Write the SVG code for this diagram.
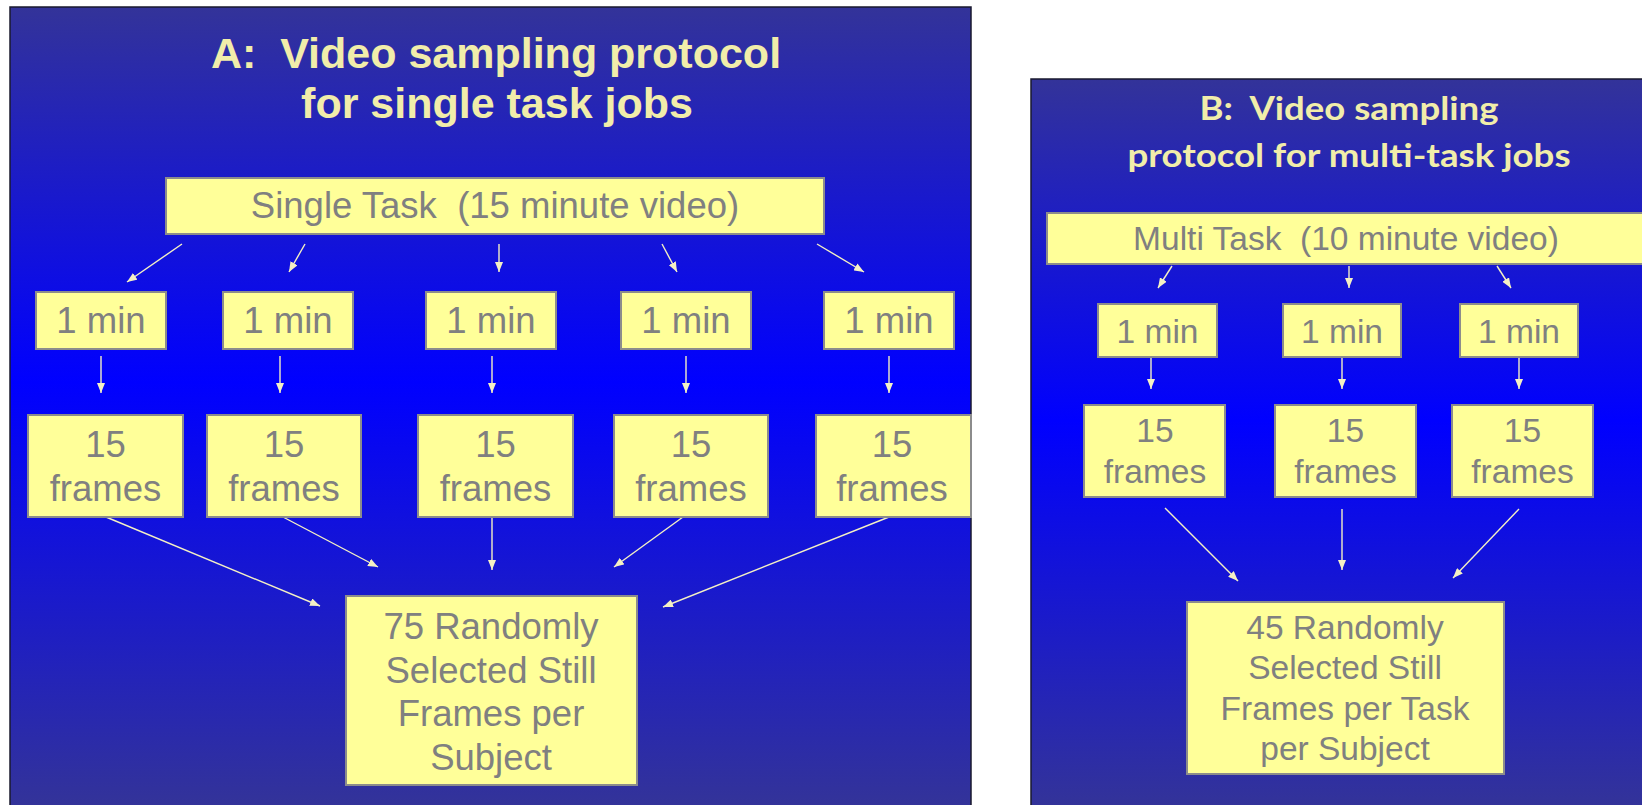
<svg xmlns="http://www.w3.org/2000/svg" width="1642" height="805" viewBox="0 0 1642 805">
<style>
text{white-space:pre}
.bg{fill:#ffffff}
.panel{stroke:#1a1a2e;stroke-width:1.5}
.box{fill:#FFFF99;stroke:#8C8C8C;stroke-width:2}
.t{font-family:"Liberation Sans",Arial,sans-serif;fill:#808080;text-anchor:middle}
.ta{font-size:36.5px}
.tb{font-size:33.5px}
.titleA{font-family:"Liberation Sans",Arial,sans-serif;font-weight:bold;font-size:43px;fill:#F1EDAA;text-anchor:middle}
.titleB{font-family:Lato,"Open Sans",sans-serif;font-weight:bold;font-size:33px;fill:#F1EDAA;text-anchor:middle}
.c line{stroke:#F4F0C4;stroke-width:1.4;marker-end:url(#ah)}
</style>
<defs>
<linearGradient id="gA" gradientUnits="userSpaceOnUse" x1="0" y1="7" x2="0" y2="805">
<stop offset="0" stop-color="#333399"/>
<stop offset="0.47" stop-color="#0000FF"/>
<stop offset="1" stop-color="#333399"/>
</linearGradient>
<linearGradient id="gB" gradientUnits="userSpaceOnUse" x1="0" y1="79" x2="0" y2="805">
<stop offset="0" stop-color="#333399"/>
<stop offset="0.47" stop-color="#0000FF"/>
<stop offset="1" stop-color="#333399"/>
</linearGradient>
<marker id="ah" markerUnits="userSpaceOnUse" markerWidth="10" markerHeight="8" refX="10" refY="4" orient="auto">
<path d="M0,0 L10,4 L0,8 z" fill="#F4F0C4"/>
</marker>
</defs>
<rect class="bg" x="0" y="0" width="1642" height="805"/>
<rect id="panelA" class="panel" x="10" y="7" width="961" height="810" fill="url(#gA)"/>
<rect id="panelB" class="panel" x="1031" y="79" width="630" height="740" fill="url(#gB)"/>

<g id="titleA">
<text class="titleA" x="496" y="68" xml:space="preserve">A:  Video sampling protocol</text>
<text class="titleA" x="497" y="118">for single task jobs</text>
</g>
<g id="titleB">
<text class="titleB" x="1349" y="120" textLength="299" lengthAdjust="spacingAndGlyphs" xml:space="preserve">B:  Video sampling</text>
<text class="titleB" x="1349" y="167" textLength="443" lengthAdjust="spacingAndGlyphs">protocol for multi-task jobs</text>
</g>

<g id="connectors" class="c">
<line x1="182" y1="244" x2="127" y2="282"/>
<line x1="305" y1="244" x2="289" y2="272"/>
<line x1="499" y1="244" x2="499" y2="272"/>
<line x1="662" y1="244" x2="677" y2="272"/>
<line x1="817" y1="244" x2="864" y2="272"/>
<line x1="101" y1="356" x2="101" y2="393"/>
<line x1="280" y1="356" x2="280" y2="393"/>
<line x1="492" y1="356" x2="492" y2="393"/>
<line x1="686" y1="356" x2="686" y2="393"/>
<line x1="889" y1="356" x2="889" y2="393"/>
<line x1="106" y1="517" x2="320" y2="606"/>
<line x1="283" y1="517" x2="378" y2="567"/>
<line x1="492" y1="517" x2="492" y2="570"/>
<line x1="683" y1="517" x2="614" y2="567"/>
<line x1="889" y1="517" x2="663" y2="607"/>
<line x1="1172" y1="266" x2="1158" y2="288"/>
<line x1="1349" y1="266" x2="1349" y2="288"/>
<line x1="1497" y1="266" x2="1511" y2="288"/>
<line x1="1151" y1="358" x2="1151" y2="389"/>
<line x1="1342" y1="358" x2="1342" y2="389"/>
<line x1="1519" y1="358" x2="1519" y2="389"/>
<line x1="1165" y1="508" x2="1238" y2="581"/>
<line x1="1342" y1="509" x2="1342" y2="570"/>
<line x1="1519" y1="509" x2="1453" y2="578"/>
</g>

<g id="singleTask"><rect class="box" x="166" y="178" width="658" height="56"/><text class="t ta" x="495" y="218" xml:space="preserve">Single Task  (15 minute video)</text></g>

<g id="a_min1"><rect class="box" x="36" y="292" width="130" height="57"/><text class="t ta" x="101" y="333">1 min</text></g>
<g id="a_min2"><rect class="box" x="223" y="292" width="130" height="57"/><text class="t ta" x="288" y="333">1 min</text></g>
<g id="a_min3"><rect class="box" x="426" y="292" width="130" height="57"/><text class="t ta" x="491" y="333">1 min</text></g>
<g id="a_min4"><rect class="box" x="621" y="292" width="130" height="57"/><text class="t ta" x="686" y="333">1 min</text></g>
<g id="a_min5"><rect class="box" x="824" y="292" width="130" height="57"/><text class="t ta" x="889" y="333">1 min</text></g>

<g id="a_fr1"><rect class="box" x="28" y="415" width="155" height="102"/><text class="t ta" x="105.5" y="457">15</text><text class="t ta" x="105.5" y="501">frames</text></g>
<g id="a_fr2"><rect class="box" x="207" y="415" width="154" height="102"/><text class="t ta" x="284" y="457">15</text><text class="t ta" x="284" y="501">frames</text></g>
<g id="a_fr3"><rect class="box" x="418" y="415" width="155" height="102"/><text class="t ta" x="495.5" y="457">15</text><text class="t ta" x="495.5" y="501">frames</text></g>
<g id="a_fr4"><rect class="box" x="614" y="415" width="154" height="102"/><text class="t ta" x="691" y="457">15</text><text class="t ta" x="691" y="501">frames</text></g>
<g id="a_fr5"><rect class="box" x="816" y="415" width="155" height="102"/><text class="t ta" x="892" y="457">15</text><text class="t ta" x="892" y="501">frames</text></g>

<g id="a_result"><rect class="box" x="346" y="596" width="291" height="189"/>
<text class="t ta" x="491" y="639">75 Randomly</text>
<text class="t ta" x="491" y="683">Selected Still</text>
<text class="t ta" x="491" y="726">Frames per</text>
<text class="t ta" x="491" y="770">Subject</text></g>

<g id="multiTask"><rect class="box" x="1047" y="213" width="620" height="51"/><text class="t tb" x="1346" y="250" xml:space="preserve">Multi Task  (10 minute video)</text></g>

<g id="b_min1"><rect class="box" x="1098" y="304" width="119" height="53"/><text class="t tb" x="1157.5" y="343">1 min</text></g>
<g id="b_min2"><rect class="box" x="1283" y="304" width="118" height="53"/><text class="t tb" x="1342" y="343">1 min</text></g>
<g id="b_min3"><rect class="box" x="1460" y="304" width="118" height="53"/><text class="t tb" x="1519" y="343">1 min</text></g>

<g id="b_fr1"><rect class="box" x="1084" y="405" width="141" height="92"/><text class="t tb" x="1155" y="442">15</text><text class="t tb" x="1155" y="483">frames</text></g>
<g id="b_fr2"><rect class="box" x="1275" y="405" width="141" height="92"/><text class="t tb" x="1345.5" y="442">15</text><text class="t tb" x="1345.5" y="483">frames</text></g>
<g id="b_fr3"><rect class="box" x="1452" y="405" width="141" height="92"/><text class="t tb" x="1522.5" y="442">15</text><text class="t tb" x="1522.5" y="483">frames</text></g>

<g id="b_result"><rect class="box" x="1187" y="602" width="317" height="172"/>
<text class="t tb" x="1345" y="639">45 Randomly</text>
<text class="t tb" x="1345" y="679">Selected Still</text>
<text class="t tb" x="1345" y="720">Frames per Task</text>
<text class="t tb" x="1345" y="760">per Subject</text></g>
</svg>
